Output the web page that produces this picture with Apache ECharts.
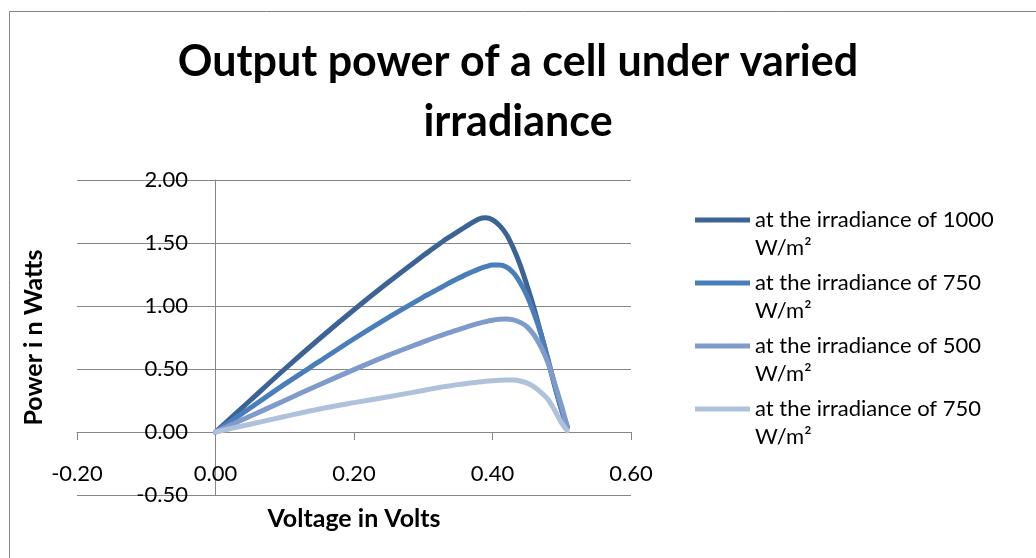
<!DOCTYPE html>
<html>
<head>
<meta charset="utf-8">
<script src="https://cdn.jsdelivr.net/npm/echarts@6/dist/echarts.min.js"></script>
<style>
  html, body { margin: 0; padding: 0; background: #fff; }
  #chart { width: 1036px; height: 558px; }
</style>
</head>
<body>
<div id="chart"></div>
<script>
// voltage points (V)
const voltage = [0, 0.05, 0.10, 0.15, 0.20, 0.25, 0.30, 0.31, 0.32, 0.33, 0.34, 0.35, 0.36, 0.37, 0.38, 0.39,
    0.40, 0.41, 0.42, 0.43, 0.44, 0.45, 0.46, 0.47, 0.48, 0.49, 0.50, 0.508]
// power (W) for each irradiance
const p1000 = [0, 0.25, 0.50, 0.74, 0.97, 1.19, 1.40, 1.44, 1.48, 1.52, 1.555, 1.59, 1.625, 1.66, 1.69, 1.70,
    1.685, 1.64, 1.57, 1.46, 1.325, 1.16, 0.98, 0.78, 0.57, 0.36, 0.17, 0.04]
const p750 = [0, 0.19, 0.38, 0.56, 0.74, 0.91, 1.07, 1.10, 1.13, 1.16, 1.19, 1.218, 1.245, 1.27, 1.293, 1.312,
    1.325, 1.325, 1.31, 1.265, 1.185, 1.08, 0.94, 0.78, 0.58, 0.37, 0.17, 0.04]
const p500 = [0, 0.125, 0.25, 0.375, 0.495, 0.61, 0.715, 0.736, 0.756, 0.775, 0.793, 0.811, 0.829, 0.846, 0.862, 0.876,
    0.887, 0.894, 0.897, 0.89, 0.87, 0.835, 0.77, 0.675, 0.55, 0.38, 0.20, 0.04]
const p250 = [0, 0.062, 0.123, 0.183, 0.233, 0.28, 0.33, 0.34, 0.35, 0.36, 0.368, 0.376, 0.383, 0.39, 0.396, 0.402,
    0.407, 0.411, 0.413, 0.412, 0.405, 0.388, 0.358, 0.315, 0.26, 0.17, 0.07, 0.01]

// the last series is labelled 750 in the original too; the trailing space keeps the legend entry apart
const seriesNames = [
    'at the irradiance of 1000 W/m²',
    'at the irradiance of 750 W/m²',
    'at the irradiance of 500 W/m²',
    'at the irradiance of 750 W/m² '
]
const seriesValues = [p1000, p750, p500, p250]
const colors = ['#3b6395', '#4a7ebb', '#7e9bcb', '#b0c1dc']

const font = 'Lato, "Open Sans", sans-serif'
const gray = '#868686'

let Chart = echarts.init(document.getElementById('chart'))

let series = seriesValues.map(function (vals, i) {
    return {
        name: seriesNames[i],
        type: 'line',
        smooth: 0.3,
        showSymbol: false,
        color: colors[i],
        itemStyle: { color: colors[i] },
        lineStyle: { width: 5, color: colors[i], cap: 'round', join: 'round' },
        data: voltage.map(function (v, k) { return [v, vals[k]] })
    }
})

let option = {
    animation: false,
    backgroundColor: '#fff',
    textStyle: { fontFamily: font },
    title: {
        text: 'Output power of a cell under varied\nirradiance',
        left: 'center',
        top: 32,
        padding: 0,
        textStyle: {
            fontFamily: font,
            fontSize: 43,
            fontWeight: 'bold',
            lineHeight: 60,
            color: '#000'
        }
    },
    graphic: [{
        type: 'rect',
        left: 7,
        top: 9,
        shape: { width: 1100, height: 700 },
        style: { fill: 'none', stroke: gray, lineWidth: 1 },
        silent: true
    }],
    legend: {
        orient: 'vertical',
        left: 695,
        top: 206,
        padding: 0,
        itemGap: 7,
        itemWidth: 55,
        itemHeight: 33,
        icon: 'path://M0,0 L55,0 L55,5 L0,5 Z M0,33',
        itemStyle: { borderWidth: 0 },
        formatter: function (name) {
            return name.trim().replace(' W/m²', '\nW/m²')
        },
        textStyle: {
            fontFamily: font,
            fontSize: 22,
            lineHeight: 28,
            color: '#000'
        },
        data: seriesNames
    },
    grid: {
        left: 77,
        right: 405,
        top: 180,
        bottom: 63,
        containLabel: false,
        outerBoundsMode: 'none'
    },
    xAxis: {
        type: 'value',
        min: -0.2,
        max: 0.6,
        interval: 0.2,
        name: 'Voltage in Volts',
        nameLocation: 'middle',
        nameGap: 11,
        nameTextStyle: { fontFamily: font, fontSize: 25, fontWeight: 'bold', color: '#000' },
        axisLine: { onZero: true, lineStyle: { color: gray, width: 1 } },
        axisTick: { show: true, length: 8, lineStyle: { color: gray } },
        axisLabel: {
            margin: -32,
            fontFamily: font,
            fontSize: 22,
            color: '#000',
            formatter: function (v) { return v.toFixed(2) }
        },
        splitLine: { show: false }
    },
    yAxis: {
        type: 'value',
        min: -0.5,
        max: 2.0,
        interval: 0.5,
        name: 'Power i n Watts',
        nameLocation: 'middle',
        nameGap: 31,
        nameTextStyle: { fontFamily: font, fontSize: 25, fontWeight: 'bold', color: '#000' },
        axisLine: { show: true, onZero: true, lineStyle: { color: gray, width: 1 } },
        axisTick: { show: true, length: 7, lineStyle: { color: gray } },
        axisLabel: {
            margin: -111,
            fontFamily: font,
            fontSize: 22,
            color: '#000',
            formatter: function (v) { return v.toFixed(2) }
        },
        splitLine: { show: true, lineStyle: { color: gray, width: 1 } }
    },
    series: series
}
Chart.setOption(option)
</script>
</body>
</html>
